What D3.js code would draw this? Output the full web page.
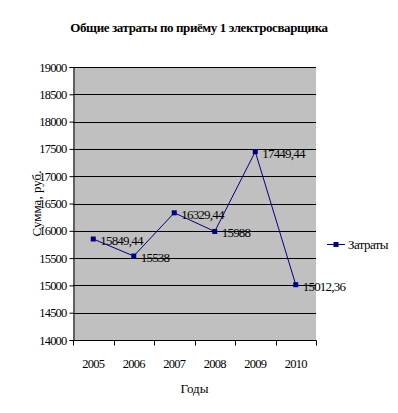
<!DOCTYPE html>
<html>
<head>
<meta charset="utf-8">
<script src="https://cdn.jsdelivr.net/npm/d3@7"></script>
<style>
  body { margin: 0; background: #fff; }
  svg text { font-family: 'Liberation Serif', 'Times New Roman', 'DejaVu Serif', serif !important; }
</style>
</head>
<body>
<div id="chart"></div>
<script>
// chart data
const years = ['2005', '2006', '2007', '2008', '2009', '2010']
const costs = [15849.44, 15538, 16329.44, 15988, 17449.44, 15012.36]
const yTicks = [14000, 14500, 15000, 15500, 16000, 16500, 17000, 17500, 18000, 18500, 19000]

const width = 398
const height = 413
const plot = { left: 73, right: 316, top: 67, bottom: 340 }

const svg = d3.select('#chart')
  .append('svg')
  .attr('width', width)
  .attr('height', height)

// title
svg.append('text')
  .attr('x', 199)
  .attr('y', 32)
  .attr('text-anchor', 'middle')
  .attr('font-size', 13)
  .attr('font-weight', 'bold')
  .attr('letter-spacing', -0.4)
  .text('Общие затраты по приёму 1 электросварщика')

const xScale = d3.scaleBand()
  .domain(years)
  .range([plot.left, plot.right])

const yScale = d3.scaleLinear()
  .domain([14000, 19000])
  .range([plot.bottom, plot.top])

// grey plot area
svg.append('rect')
  .attr('x', plot.left)
  .attr('y', plot.top)
  .attr('width', plot.right - plot.left)
  .attr('height', plot.bottom - plot.top)
  .attr('fill', '#c0c0c0')

// gridlines
svg.append('g')
  .selectAll('line')
  .data(yTicks.slice(1))
  .join('line')
  .attr('x1', plot.left)
  .attr('x2', plot.right)
  .attr('y1', (d) => Math.round(yScale(d)) + 0.5)
  .attr('y2', (d) => Math.round(yScale(d)) + 0.5)
  .attr('stroke', '#000')

// y axis
const yAxis = d3.axisLeft(yScale).tickValues(yTicks).tickSize(4).tickPadding(3).tickFormat((d) => d)
const yAxisGroup = svg.append('g')
  .attr('transform', `translate(${plot.left + 0.5}, 0)`)
  .call(yAxis)
  .attr('font-family', null)
yAxisGroup.select('.domain').attr('stroke', '#000')
yAxisGroup.selectAll('text')
  .attr('font-size', 12.5)
  .attr('letter-spacing', -0.8)
  .attr('fill', '#000')

// x axis, ticks between categories
const xAxisGroup = svg.append('g')
  .attr('transform', `translate(0, ${plot.bottom + 0.5})`)
xAxisGroup.append('line')
  .attr('x1', plot.left)
  .attr('x2', plot.right + 0.5)
  .attr('stroke', '#000')
xAxisGroup.selectAll('.tick')
  .data(years.concat(['end']))
  .join('line')
  .attr('x1', (d, i) => Math.round(plot.left + i * xScale.step()) + 0.5)
  .attr('x2', (d, i) => Math.round(plot.left + i * xScale.step()) + 0.5)
  .attr('y1', 0)
  .attr('y2', 5)
  .attr('stroke', '#000')
xAxisGroup.selectAll('text')
  .data(years)
  .join('text')
  .attr('x', (d) => xScale(d) + xScale.bandwidth() / 2)
  .attr('y', 27)
  .attr('text-anchor', 'middle')
  .attr('font-size', 12.5)
  .attr('letter-spacing', -0.8)
  .text((d) => d)

// axis titles
svg.append('text')
  .attr('x', (plot.left + plot.right) / 2)
  .attr('y', 393)
  .attr('text-anchor', 'middle')
  .attr('font-size', 13)
  .text('Годы')

svg.append('text')
  .attr('transform', `translate(41, ${(plot.top + plot.bottom) / 2}) rotate(-90)`)
  .attr('text-anchor', 'middle')
  .attr('font-size', 13)
  .text('Сумма, руб.')

// line
const cx = (i) => xScale(years[i]) + xScale.bandwidth() / 2
const lineGenerator = d3.line()
  .x((d, i) => cx(i))
  .y((d) => yScale(d))

svg.append('path')
  .datum(costs)
  .attr('d', lineGenerator)
  .attr('fill', 'none')
  .attr('stroke', '#000080')
  .attr('stroke-width', 1)

svg.append('g')
  .selectAll('rect')
  .data(costs)
  .join('rect')
  .attr('x', (d, i) => cx(i) - 2.5)
  .attr('y', (d) => yScale(d) - 2.5)
  .attr('width', 5)
  .attr('height', 5)
  .attr('fill', '#000080')

// data labels
svg.append('g')
  .selectAll('text')
  .data(costs)
  .join('text')
  .attr('x', (d, i) => cx(i) + 7)
  .attr('y', (d) => yScale(d) + 6)
  .attr('font-size', 13)
  .attr('letter-spacing', -0.8)
  .text((d) => String(d).replace('.', ','))

// legend
svg.append('line')
  .attr('x1', 327)
  .attr('x2', 345)
  .attr('y1', 244.5)
  .attr('y2', 244.5)
  .attr('stroke', '#000080')
svg.append('rect')
  .attr('x', 333.5)
  .attr('y', 242)
  .attr('width', 5)
  .attr('height', 5)
  .attr('fill', '#000080')
svg.append('text')
  .attr('x', 348)
  .attr('y', 249)
  .attr('font-size', 13)
  .attr('letter-spacing', -0.6)
  .text('Затраты')
</script>
</body>
</html>
